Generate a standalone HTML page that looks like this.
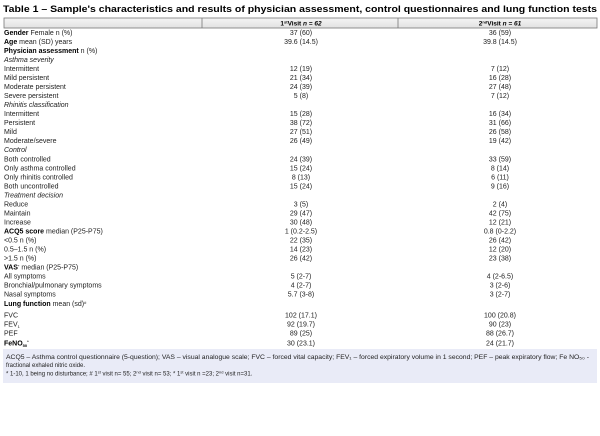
<!DOCTYPE html>
<html><head><meta charset="utf-8"><style>
html,body{margin:0;padding:0;background:#fff;}
svg{display:block;font-family:"Liberation Sans",Arial,sans-serif;}
text{font-size:7px;fill:#222;}
.b{font-weight:bold;fill:#000;}
.i{font-style:italic;}
.c{text-anchor:middle;}
</style></head><body>
<svg width="600" height="436" viewBox="0 0 600 436">
<defs><linearGradient id="g" x1="0" y1="0" x2="0" y2="1"><stop offset="0" stop-color="#f4f4f4"/><stop offset="1" stop-color="#e2e2e2"/></linearGradient></defs>
<text x="3" y="12" class="b" style="font-size:9.6px" textLength="594" lengthAdjust="spacingAndGlyphs">Table 1 – Sample's characteristics and results of physician assessment, control questionnaires and lung function tests</text>
<rect x="4" y="18" width="593" height="10" fill="url(#g)" stroke="#777" stroke-width="0.8"/>
<line x1="202" y1="18" x2="202" y2="28" stroke="#777" stroke-width="0.8"/>
<line x1="398" y1="18" x2="398" y2="28" stroke="#777" stroke-width="0.8"/>
<text x="301" y="25.5" class="c b" style="font-size:6.5px">1<tspan dy="-2" style="font-size:4px">st</tspan><tspan dy="2">Visit </tspan><tspan font-style="italic">n = 62</tspan></text>
<text x="500" y="25.5" class="c b" style="font-size:6.5px">2<tspan dy="-2" style="font-size:4px">nd</tspan><tspan dy="2">Visit </tspan><tspan font-style="italic">n = 61</tspan></text>

<g>
<text x="4" y="35"><tspan class="b">Gender</tspan> Female n (%)</text><text x="301" y="35" class="c">37 (60)</text><text x="500" y="35" class="c">36 (59)</text>
<text x="4" y="44"><tspan class="b">Age</tspan> mean (SD) years</text><text x="301" y="44" class="c">39.6 (14.5)</text><text x="500" y="44" class="c">39.8 (14.5)</text>
<text x="4" y="53"><tspan class="b">Physician assessment</tspan> n (%)</text>
<text x="4" y="62.1" class="i">Asthma severity</text>
<text x="4" y="71.1">Intermittent</text><text x="301" y="71.1" class="c">12 (19)</text><text x="500" y="71.1" class="c">7 (12)</text>
<text x="4" y="80.1">Mild persistent</text><text x="301" y="80.1" class="c">21 (34)</text><text x="500" y="80.1" class="c">16 (28)</text>
<text x="4" y="89.1">Moderate persistent</text><text x="301" y="89.1" class="c">24 (39)</text><text x="500" y="89.1" class="c">27 (48)</text>
<text x="4" y="98.1">Severe persistent</text><text x="301" y="98.1" class="c">5 (8)</text><text x="500" y="98.1" class="c">7 (12)</text>
<text x="4" y="107.2" class="i">Rhinitis classification</text>
<text x="4" y="116.2">Intermittent</text><text x="301" y="116.2" class="c">15 (28)</text><text x="500" y="116.2" class="c">16 (34)</text>
<text x="4" y="125.2">Persistent</text><text x="301" y="125.2" class="c">38 (72)</text><text x="500" y="125.2" class="c">31 (66)</text>
<text x="4" y="134.2">Mild</text><text x="301" y="134.2" class="c">27 (51)</text><text x="500" y="134.2" class="c">26 (58)</text>
<text x="4" y="143.2">Moderate/severe</text><text x="301" y="143.2" class="c">26 (49)</text><text x="500" y="143.2" class="c">19 (42)</text>
<text x="4" y="152.2" class="i">Control</text>
<text x="4" y="161.3">Both controlled</text><text x="301" y="161.3" class="c">24 (39)</text><text x="500" y="161.3" class="c">33 (59)</text>
<text x="4" y="170.3">Only asthma controlled</text><text x="301" y="170.3" class="c">15 (24)</text><text x="500" y="170.3" class="c">8 (14)</text>
<text x="4" y="179.3">Only rhinitis controlled</text><text x="301" y="179.3" class="c">8 (13)</text><text x="500" y="179.3" class="c">6 (11)</text>
<text x="4" y="188.3">Both uncontrolled</text><text x="301" y="188.3" class="c">15 (24)</text><text x="500" y="188.3" class="c">9 (16)</text>
<text x="4" y="197.4" class="i">Treatment decision</text>
<text x="4" y="206.4">Reduce</text><text x="301" y="206.4" class="c">3 (5)</text><text x="500" y="206.4" class="c">2 (4)</text>
<text x="4" y="215.4">Maintain</text><text x="301" y="215.4" class="c">29 (47)</text><text x="500" y="215.4" class="c">42 (75)</text>
<text x="4" y="224.4">Increase</text><text x="301" y="224.4" class="c">30 (48)</text><text x="500" y="224.4" class="c">12 (21)</text>
<text x="4" y="233.5"><tspan class="b">ACQ5 score</tspan> median (P25-P75)</text><text x="301" y="233.5" class="c">1 (0.2-2.5)</text><text x="500" y="233.5" class="c">0.8 (0-2.2)</text>
<text x="4" y="242.5">&lt;0.5 n (%)</text><text x="301" y="242.5" class="c">22 (35)</text><text x="500" y="242.5" class="c">26 (42)</text>
<text x="4" y="251.5">0.5–1.5 n (%)</text><text x="301" y="251.5" class="c">14 (23)</text><text x="500" y="251.5" class="c">12 (20)</text>
<text x="4" y="260.5">&gt;1.5 n (%)</text><text x="301" y="260.5" class="c">26 (42)</text><text x="500" y="260.5" class="c">23 (38)</text>
<text x="4" y="269.5"><tspan class="b">VAS</tspan><tspan dy="-2" style="font-size:4px">*</tspan><tspan dy="2"> median (P25-P75)</tspan></text>
<text x="4" y="278.5">All symptoms</text><text x="301" y="278.5" class="c">5 (2-7)</text><text x="500" y="278.5" class="c">4 (2-6.5)</text>
<text x="4" y="287.5">Bronchial/pulmonary symptoms</text><text x="301" y="287.5" class="c">4 (2-7)</text><text x="500" y="287.5" class="c">3 (2-6)</text>
<text x="4" y="296.5">Nasal symptoms</text><text x="301" y="296.5" class="c">5.7 (3-8)</text><text x="500" y="296.5" class="c">3 (2-7)</text>
<text x="4" y="306"><tspan class="b">Lung function</tspan> mean (sd)<tspan dy="-2" style="font-size:4px">#</tspan></text>
<text x="4" y="317.5">FVC</text><text x="301" y="317.5" class="c">102 (17.1)</text><text x="500" y="317.5" class="c">100 (20.8)</text>
<text x="4" y="326.5">FEV<tspan dy="1.5" style="font-size:4px">1</tspan></text><text x="301" y="326.5" class="c">92 (19.7)</text><text x="500" y="326.5" class="c">90 (23)</text>
<text x="4" y="335.5">PEF</text><text x="301" y="335.5" class="c">89 (25)</text><text x="500" y="335.5" class="c">88 (26.7)</text>
<text x="4" y="345.5" class="b">FeNO<tspan dy="1.5" style="font-size:4px">50</tspan><tspan dy="-4" style="font-size:4px">*</tspan></text><text x="301" y="345.5" class="c">30 (23.1)</text><text x="500" y="345.5" class="c">24 (21.7)</text>
</g>
<rect x="3" y="349" width="594" height="34" fill="#e9ebf7"/>
<text x="6" y="359" style="font-size:6px" textLength="583" lengthAdjust="spacingAndGlyphs">ACQ5 – Asthma control questionnaire (5-question); VAS – visual analogue scale; FVC – forced vital capacity; FEV₁ – forced expiratory volume in 1 second; PEF – peak expiratory flow; Fe NO₅₀ -</text>
<text x="6" y="367" style="font-size:6px">fractional exhaled nitric oxide.</text>
<text x="6" y="375.5" style="font-size:6px">* 1-10, 1 being no disturbance; # 1<tspan dy="-2" style="font-size:4px">st</tspan><tspan dy="2"> visit n= 55; 2</tspan><tspan dy="-2" style="font-size:4px">nd</tspan><tspan dy="2"> visit n= 53; * 1</tspan><tspan dy="-2" style="font-size:4px">st</tspan><tspan dy="2"> visit n =23; 2</tspan><tspan dy="-2" style="font-size:4px">nd</tspan><tspan dy="2"> visit n=31.</tspan></text>
</svg>
</body></html>
